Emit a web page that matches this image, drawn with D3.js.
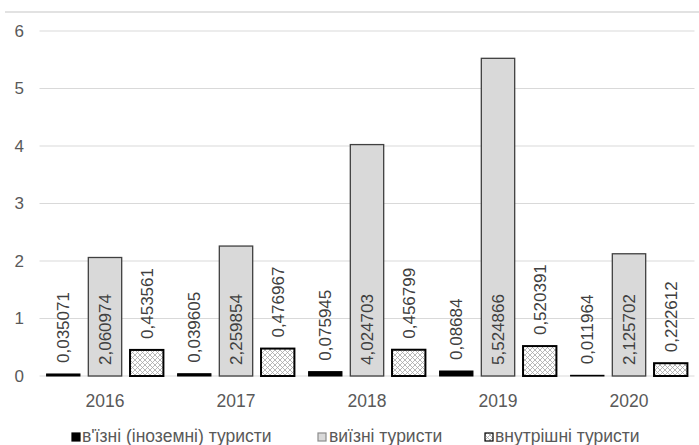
<!DOCTYPE html>
<html><head><meta charset="utf-8">
<script src="https://cdn.jsdelivr.net/npm/d3@7"></script>
<style>body{margin:0;background:#fff}svg{display:block;font-family:Arial,"Liberation Sans",sans-serif}</style>
</head><body>
<svg id="c" width="699" height="445"></svg>
<script>
const years = ["2016","2017","2018","2019","2020"];
const seriesNames = ["в'їзні (іноземні) туристи","виїзні туристи","внутрішні туристи"];
const inbound = [0.035071, 0.039605, 0.075945, 0.08684, 0.011964];
const outbound = [2.060974, 2.259854, 4.024703, 5.524866, 2.125702];
const domestic = [0.453561, 0.476967, 0.456799, 0.520391, 0.222612];
const labels = [
  ["0,035071","0,039605","0,075945","0,08684","0,011964"],
  ["2,060974","2,259854","4,024703","5,524866","2,125702"],
  ["0,453561","0,476967","0,456799","0,520391","0,222612"]
];
const yTicks = [0,1,2,3,4,5,6];

const svg = d3.select("#c");
const defs = svg.append("defs");
const pat = defs.append("pattern").attr("id","hatch").attr("patternUnits","userSpaceOnUse")
  .attr("width",5).attr("height",5);
pat.append("rect").attr("width",5).attr("height",5).attr("fill","#fff");
pat.append("path").attr("d","M0,0L5,5M5,0L0,5").attr("stroke","#a6a6a6").attr("stroke-width",0.8);

const series = [inbound, outbound, domestic];
const styles = [
  {fill:"#000", stroke:"#000", sw:1},
  {fill:"#d9d9d9", stroke:"#404040", sw:1.3},
  {fill:"url(#hatch)", stroke:"#000", sw:2}
];

const x0 = d3.scaleBand().domain(years).range([39.5, 694.5]);
const x1 = d3.scaleBand().domain([0,1,2]).range([0, x0.bandwidth()]).paddingInner(0.2).paddingOuter(0.17);
const y = d3.scaleLinear().domain([0,6]).range([376,31]);

// top border
svg.append("line").attr("x1",5).attr("x2",699).attr("y1",12).attr("y2",12)
  .attr("stroke","#d9d9d9").attr("stroke-width",1.5);

// grid
svg.append("g").selectAll("line").data(yTicks).join("line")
  .attr("x1",39.5).attr("x2",694.5).attr("y1",d=>y(d)).attr("y2",d=>y(d))
  .attr("stroke","#d9d9d9").attr("stroke-width",1);

// y labels
svg.append("g").selectAll("text").data(yTicks).join("text")
  .attr("x",24).attr("y",d=>y(d)).attr("dy","0.35em").attr("text-anchor","end")
  .attr("fill","#595959").attr("font-size",17).text(d=>d);

// x labels
svg.append("g").selectAll("text").data(years).join("text")
  .attr("x",d=>x0(d)+x0.bandwidth()/2).attr("y",407).attr("text-anchor","middle")
  .attr("fill","#595959").attr("font-size",17.5).text(d=>d);

// bars
series.forEach((vals,si)=>{
  const g = svg.append("g");
  g.selectAll("rect").data(vals).join("rect")
    .attr("x",(d,i)=>x0(years[i])+x1(si))
    .attr("width",x1.bandwidth())
    .attr("y",d=>y(d))
    .attr("height",d=>y(0)-y(d))
    .attr("fill",styles[si].fill).attr("stroke",styles[si].stroke).attr("stroke-width",styles[si].sw);
});

// data labels
series.forEach((vals,si)=>{
  const g = svg.append("g");
  g.selectAll("text").data(vals).join("text")
    .attr("transform",(d,i)=>{
      const cx = x0(years[i])+x1(si)+x1.bandwidth()/2;
      const yy = si===1 ? y(0)-11 : y(d)-11;
      return `translate(${cx},${yy}) rotate(-90)`;
    })
    .attr("dy","0.35em").attr("text-anchor","start")
    .attr("fill","#404040").attr("font-size",17)
    .text((d,i)=>labels[si][i]);
});

// legend
const leg = [
  {x:72, tx:82, fill:"#000", stroke:"#000"},
  {x:318, tx:329, fill:"#d9d9d9", stroke:"#8c8c8c"},
  {x:485, tx:495, fill:"url(#hatch)", stroke:"#000"}
];
const lg = svg.append("g");
leg.forEach((l,i)=>{
  lg.append("rect").attr("x",l.x).attr("y",433).attr("width",8).attr("height",8)
    .attr("fill",l.fill).attr("stroke",l.stroke).attr("stroke-width",1.2);
  lg.append("text").attr("x",l.tx).attr("y",442).attr("fill","#595959").attr("font-size",17.5)
    .text(seriesNames[i]);
});
</script>
</body></html>
